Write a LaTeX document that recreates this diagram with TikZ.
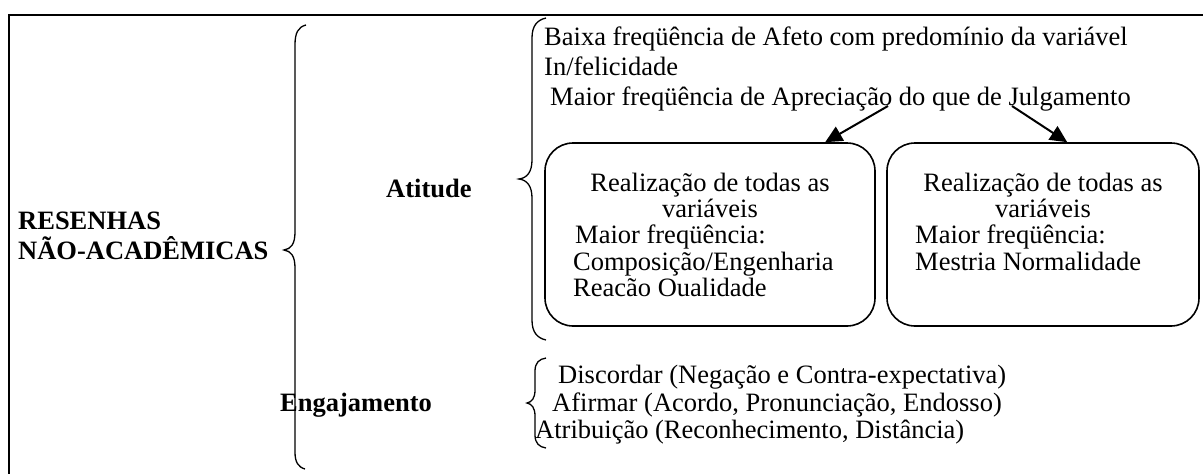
\documentclass[tikz,border=0pt]{standalone}
\usepackage{fontspec}
\setmainfont{Liberation Serif}
\usetikzlibrary{arrows.meta}
\begin{document}
\begin{tikzpicture}[x=1pt,y=-1pt,
  txt/.style={inner sep=0pt,anchor=base west,font=\fontsize{26.5}{30}\selectfont},
  ctxt/.style={inner sep=0pt,anchor=base,font=\fontsize{26.5}{30}\selectfont},
  btxt/.style={inner sep=0pt,anchor=base west,font=\fontsize{26.5}{30}\selectfont\bfseries},
  roundbox/.style={draw,line width=1.6pt,rounded corners=28pt,minimum width=#1,minimum height=183pt,inner sep=0pt},
  bracepath/.style={line width=1.3pt},
  frameline/.style={line width=2pt},
  arr/.style={line width=2pt,-{Triangle[length=17pt,width=16pt]}}
]
\useasboundingbox (0,0) rectangle (1203,474);
\draw[frameline] (9,474) -- (9,15) -- (1203,15);

% main title
\node[btxt] (r1) at (18,229) {RESENHAS};
\node[btxt] (r2) at (18,259) {NÃO-ACADÊMICAS};

% big brace
\draw[bracepath] (306,25) .. controls (298,27) and (295,33) .. (295,45) -- (295,232)
  .. controls (295,244) and (291,249) .. (284,250)
  .. controls (291,251) and (295,256) .. (295,268) -- (295,452)
  .. controls (295,462) and (298,467) .. (305,469);

\node[btxt] (ati) at (386,197) {Atitude};
\node[btxt] (eng) at (280,411) {Engajamento};

% Atitude brace
\draw[bracepath] (546,18) .. controls (537,20) and (532,26) .. (532,38) -- (532,160)
  .. controls (532,172) and (527,178) .. (519,179)
  .. controls (527,180) and (532,186) .. (532,198) -- (532,320)
  .. controls (532,332) and (537,338) .. (546,340);

\node[txt] (t1) at (544,45) {Baixa freqüência de Afeto com predomínio da variável};
\node[txt] (t2) at (544,75) {In/felicidade};
\node[txt] (t3) at (550,105) {Maior freqüência de Apreciação do que de Julgamento};

% boxes
\node[roundbox=330pt] (box1) at (710,234.5) {};
\node[roundbox=312pt] (box2) at (1043,234.5) {};

\node[ctxt] (b1a) at (710,191) {Realização de todas as};
\node[ctxt] (b1b) at (710,217) {variáveis};
\node[txt] (b1c) at (575,243) {Maior freqüência:};
\node[txt] (b1d) at (573,270) {Composição/Engenharia};
\node[txt] (b1e) at (573,296) {Reacão Oualidade};

\node[ctxt] (b2a) at (1043,191) {Realização de todas as};
\node[ctxt] (b2b) at (1043,217) {variáveis};
\node[txt] (b2c) at (915,243) {Maior freqüência:};
\node[txt] (b2d) at (915,270) {Mestria Normalidade};

% arrows
\coordinate (a1s) at (888,106);
\coordinate (a2s) at (1012,106);
\draw[arr] (a1s) -- ([xshift=281pt]box1.north west);
\draw[arr] (a2s) -- ([xshift=181pt]box2.north west);

% Engajamento brace
\draw[bracepath] (546,358) .. controls (539,359) and (535,363) .. (535,371) -- (535,390)
  .. controls (535,398) and (532,402) .. (527,403)
  .. controls (532,404) and (535,408) .. (535,416) -- (535,435)
  .. controls (535,443) and (539,447) .. (546,448);

\node[txt] (e1) at (558,383) {Discordar (Negação e Contra-expectativa)};
\node[txt] (e2) at (552,411) {Afirmar (Acordo, Pronunciação, Endosso)};
\node[txt] (e3) at (535,438) {Atribuição (Reconhecimento, Distância)};
\end{tikzpicture}
\end{document}
